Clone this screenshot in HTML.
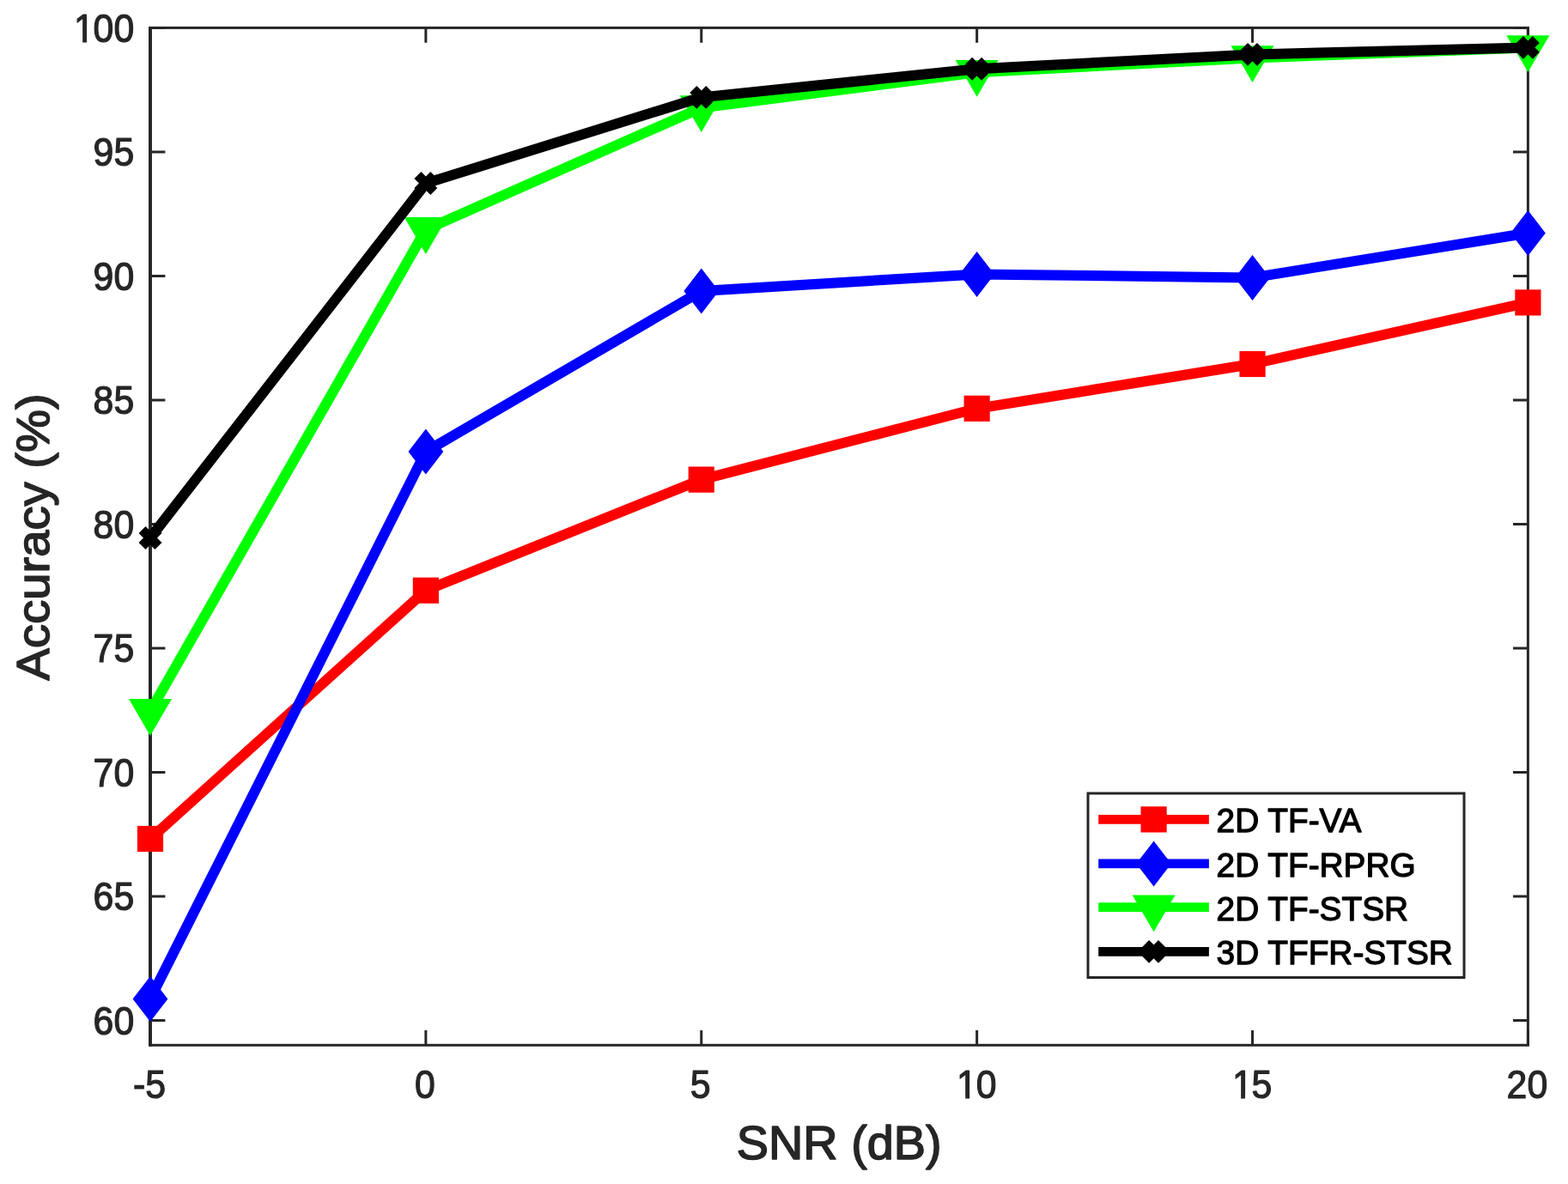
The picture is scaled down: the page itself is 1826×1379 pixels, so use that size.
<!DOCTYPE html>
<html><head><meta charset="utf-8"><title>Accuracy vs SNR</title>
<style>html,body{margin:0;padding:0;background:#fff;width:1826px;height:1379px;overflow:hidden}svg{display:block}</style>
</head><body>
<svg width="1826" height="1379" viewBox="0 0 1826 1379">
<rect width="1826" height="1379" fill="#ffffff"/>
<path d="M175.00 1217.30V1199.90M175.00 32.40V49.80M495.88 1217.30V1199.90M495.88 32.40V49.80M816.76 1217.30V1199.90M816.76 32.40V49.80M1137.64 1217.30V1199.90M1137.64 32.40V49.80M1458.52 1217.30V1199.90M1458.52 32.40V49.80M1779.40 1217.30V1199.90M1779.40 32.40V49.80M175.00 1188.40H192.40M1779.40 1188.40H1762.00M175.00 1043.90H192.40M1779.40 1043.90H1762.00M175.00 899.40H192.40M1779.40 899.40H1762.00M175.00 754.90H192.40M1779.40 754.90H1762.00M175.00 610.40H192.40M1779.40 610.40H1762.00M175.00 465.90H192.40M1779.40 465.90H1762.00M175.00 321.40H192.40M1779.40 321.40H1762.00M175.00 176.90H192.40M1779.40 176.90H1762.00M175.00 32.40H192.40M1779.40 32.40H1762.00" stroke="#262626" stroke-width="3" fill="none"/>
<rect x="175.00" y="32.40" width="1604.40" height="1184.90" stroke="#262626" stroke-width="3" fill="none"/>
<path d="M175.00 30.90V1218.80" stroke="#262626" stroke-width="3.9"/>
<g font-family="'Liberation Sans', Arial, Helvetica, sans-serif" font-size="42.8" fill="#262626" stroke="#262626" stroke-width="1.1" stroke-linejoin="round">
<text transform="translate(156.20 1204.60) scale(1 1.072)" text-anchor="end">60</text>
<text transform="translate(156.20 1060.10) scale(1 1.072)" text-anchor="end">65</text>
<text transform="translate(156.20 915.60) scale(1 1.072)" text-anchor="end">70</text>
<text transform="translate(156.20 771.10) scale(1 1.072)" text-anchor="end">75</text>
<text transform="translate(156.20 626.60) scale(1 1.072)" text-anchor="end">80</text>
<text transform="translate(156.20 482.10) scale(1 1.072)" text-anchor="end">85</text>
<text transform="translate(156.20 337.60) scale(1 1.072)" text-anchor="end">90</text>
<text transform="translate(156.20 193.10) scale(1 1.072)" text-anchor="end">95</text>
<text transform="translate(156.20 48.60) scale(1 1.072)" clip-path="url(#c0)"><tspan x="-70.21">1</tspan><tspan x="-47.61">00</tspan></text>
<text transform="translate(174.00 1279.00) scale(1 1.072)" text-anchor="middle">-5</text>
<text transform="translate(494.88 1279.00) scale(1 1.072)" text-anchor="middle">0</text>
<text transform="translate(815.76 1279.00) scale(1 1.072)" text-anchor="middle">5</text>
<text transform="translate(1136.64 1279.00) scale(1 1.072)" clip-path="url(#c1)"><tspan x="-22.60">1</tspan><tspan x="0.00">0</tspan></text>
<text transform="translate(1457.52 1279.00) scale(1 1.072)" clip-path="url(#c2)"><tspan x="-22.60">1</tspan><tspan x="0.00">5</tspan></text>
<text transform="translate(1778.40 1279.00) scale(1 1.072)" text-anchor="middle">20</text>
</g>
<defs><clipPath id="c0"><rect x="-91.41" y="-60.00" width="111.41" height="55.95"/><rect x="-60.00" y="-60.00" width="4.88" height="80.00"/><rect x="-47.15" y="-60.00" width="111.41" height="80.00"/></clipPath><clipPath id="c1"><rect x="-43.80" y="-60.00" width="87.61" height="55.95"/><rect x="-12.39" y="-60.00" width="4.88" height="80.00"/><rect x="0.46" y="-60.00" width="87.61" height="80.00"/></clipPath><clipPath id="c2"><rect x="-43.80" y="-60.00" width="87.61" height="55.95"/><rect x="-12.39" y="-60.00" width="4.88" height="80.00"/><rect x="0.46" y="-60.00" width="87.61" height="80.00"/></clipPath></defs>
<text transform="translate(977.20 1350.00) scale(1 0.985)" text-anchor="middle" font-family="'Liberation Sans', Arial, Helvetica, sans-serif" font-size="55.8" fill="#262626" stroke="#262626" stroke-width="1.6" stroke-linejoin="round">SNR (dB)</text>
<text transform="translate(57.00 625.40) rotate(-90) scale(1 0.950)" text-anchor="middle" font-family="'Liberation Sans', Arial, Helvetica, sans-serif" font-size="56.2" fill="#262626" stroke="#262626" stroke-width="1.6" stroke-linejoin="round">Accuracy (%)</text>
<path d="M175.00 977.00L495.88 687.70L816.76 558.60L1137.64 475.80L1458.52 424.00L1779.40 352.40" stroke="#ff0000" stroke-width="12.00" fill="none" stroke-linejoin="round"/>
<rect x="159.90" y="961.90" width="30.20" height="30.20" fill="#ff0000"/>
<rect x="480.78" y="672.60" width="30.20" height="30.20" fill="#ff0000"/>
<rect x="801.66" y="543.50" width="30.20" height="30.20" fill="#ff0000"/>
<rect x="1122.54" y="460.70" width="30.20" height="30.20" fill="#ff0000"/>
<rect x="1443.42" y="408.90" width="30.20" height="30.20" fill="#ff0000"/>
<rect x="1764.30" y="337.30" width="30.20" height="30.20" fill="#ff0000"/>
<path d="M175.00 1163.40L495.88 526.00L816.76 339.00L1137.64 319.40L1458.52 323.40L1779.40 271.40" stroke="#0000ff" stroke-width="12.00" fill="none" stroke-linejoin="round"/>
<polygon points="175.00,1136.90 195.40,1163.40 175.00,1189.90 154.60,1163.40" fill="#0000ff"/>
<polygon points="495.88,499.50 516.28,526.00 495.88,552.50 475.48,526.00" fill="#0000ff"/>
<polygon points="816.76,312.50 837.16,339.00 816.76,365.50 796.36,339.00" fill="#0000ff"/>
<polygon points="1137.64,292.90 1158.04,319.40 1137.64,345.90 1117.24,319.40" fill="#0000ff"/>
<polygon points="1458.52,296.90 1478.92,323.40 1458.52,349.90 1438.12,323.40" fill="#0000ff"/>
<polygon points="1779.40,244.90 1799.80,271.40 1779.40,297.90 1759.00,271.40" fill="#0000ff"/>
<path d="M175.00 828.30L495.88 267.30L816.76 125.50L1137.64 84.20L1458.52 67.50L1779.40 55.40" stroke="#00ff00" stroke-width="12.00" fill="none" stroke-linejoin="round"/>
<polygon points="150.00,814.10 200.00,814.10 175.00,856.90" fill="#00ff00"/>
<polygon points="470.88,253.10 520.88,253.10 495.88,295.90" fill="#00ff00"/>
<polygon points="791.76,111.30 841.76,111.30 816.76,154.10" fill="#00ff00"/>
<polygon points="1112.64,70.00 1162.64,70.00 1137.64,112.80" fill="#00ff00"/>
<polygon points="1433.52,53.30 1483.52,53.30 1458.52,96.10" fill="#00ff00"/>
<polygon points="1754.40,41.20 1804.40,41.20 1779.40,84.00" fill="#00ff00"/>
<path d="M175.00 626.50L495.88 213.50L816.76 113.35L1137.64 80.30L1458.52 63.40L1779.40 55.40" stroke="#000000" stroke-width="12.00" fill="none" stroke-linejoin="round"/>
<path d="M165.55 617.05L184.45 635.95M165.55 635.95L184.45 617.05" stroke="#000000" stroke-width="11.30" fill="none" stroke-linecap="butt"/>
<path d="M486.43 204.05L505.33 222.95M486.43 222.95L505.33 204.05" stroke="#000000" stroke-width="11.30" fill="none" stroke-linecap="butt"/>
<path d="M807.31 103.90L826.21 122.80M807.31 122.80L826.21 103.90" stroke="#000000" stroke-width="11.30" fill="none" stroke-linecap="butt"/>
<path d="M1128.19 70.85L1147.09 89.75M1128.19 89.75L1147.09 70.85" stroke="#000000" stroke-width="11.30" fill="none" stroke-linecap="butt"/>
<path d="M1449.07 53.95L1467.97 72.85M1449.07 72.85L1467.97 53.95" stroke="#000000" stroke-width="11.30" fill="none" stroke-linecap="butt"/>
<path d="M1769.95 45.95L1788.85 64.85M1769.95 64.85L1788.85 45.95" stroke="#000000" stroke-width="11.30" fill="none" stroke-linecap="butt"/>
<rect x="1267.00" y="924.00" width="438.00" height="214.50" fill="#ffffff" stroke="#262626" stroke-width="3"/>
<path d="M1279.2 954.40H1407.9" stroke="#ff0000" stroke-width="10.8"/>
<rect x="1328.50" y="939.30" width="30.20" height="30.20" fill="#ff0000"/>
<text transform="translate(1416.60 969.30) scale(1 1.000)" font-family="'Liberation Sans', Arial, Helvetica, sans-serif" font-size="38.8" fill="#000000" stroke="#000000" stroke-width="1.3" stroke-linejoin="round">2D TF-VA</text>
<path d="M1279.2 1005.90H1407.9" stroke="#0000ff" stroke-width="10.8"/>
<polygon points="1343.60,979.40 1364.00,1005.90 1343.60,1032.40 1323.20,1005.90" fill="#0000ff"/>
<text transform="translate(1416.60 1020.80) scale(1 1.000)" font-family="'Liberation Sans', Arial, Helvetica, sans-serif" font-size="38.8" fill="#000000" stroke="#000000" stroke-width="1.3" stroke-linejoin="round">2D TF-RPRG</text>
<path d="M1279.2 1056.70H1407.9" stroke="#00ff00" stroke-width="10.8"/>
<polygon points="1318.60,1042.50 1368.60,1042.50 1343.60,1085.30" fill="#00ff00"/>
<text transform="translate(1416.60 1071.60) scale(1 1.000)" font-family="'Liberation Sans', Arial, Helvetica, sans-serif" font-size="38.8" fill="#000000" stroke="#000000" stroke-width="1.3" stroke-linejoin="round">2D TF-STSR</text>
<path d="M1279.2 1108.40H1407.9" stroke="#000000" stroke-width="10.8"/>
<path d="M1334.15 1098.95L1353.05 1117.85M1334.15 1117.85L1353.05 1098.95" stroke="#000000" stroke-width="11.30" fill="none" stroke-linecap="butt"/>
<text transform="translate(1416.60 1123.30) scale(1 1.000)" font-family="'Liberation Sans', Arial, Helvetica, sans-serif" font-size="38.8" fill="#000000" stroke="#000000" stroke-width="1.3" stroke-linejoin="round">3D TFFR-STSR</text>
</svg>
</body></html>
